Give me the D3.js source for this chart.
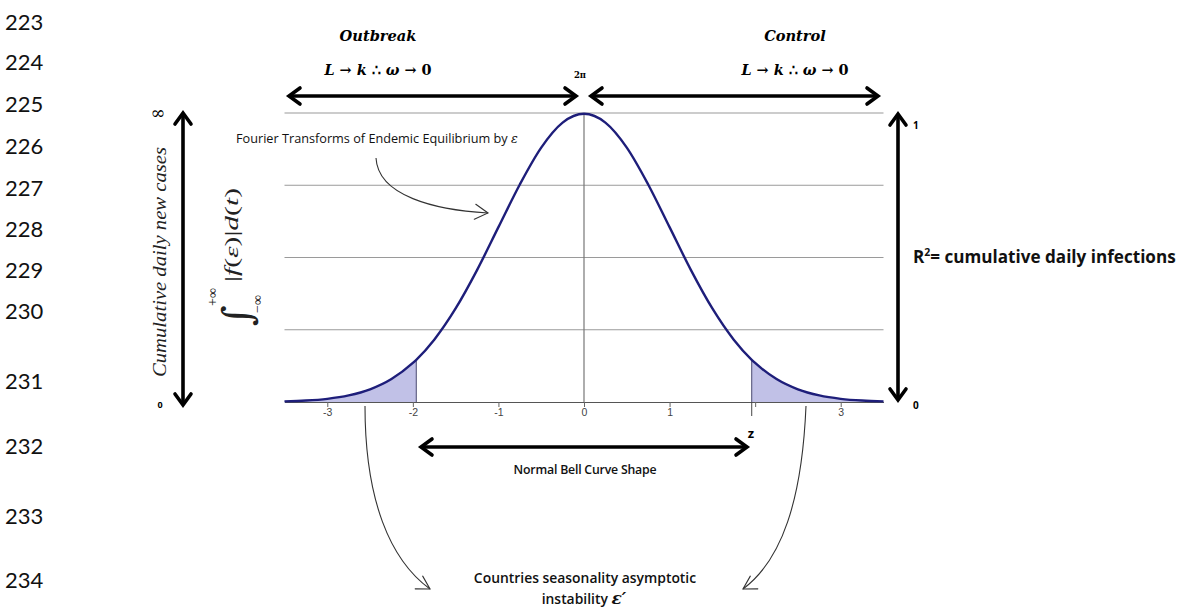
<!DOCTYPE html>
<html>
<head>
<meta charset="utf-8">
<script src="https://cdn.jsdelivr.net/npm/d3@7"></script>
<style>
  html, body { margin: 0; padding: 0; background: #fff; }
  svg { display: block; }
</style>
</head>
<body>
<svg id="chart" width="1179" height="610"></svg>
<script>
// ---------------- DATA ----------------
const lineNumbers = ["223","224","225","226","227","228","229","230","231","232","233","234"];
const zValues   = [-3.5,-3.25,-3,-2.75,-2.5,-2.25,-2,-1.96,-1.75,-1.5,-1.25,-1,-0.75,-0.5,-0.25,0,0.25,0.5,0.75,1,1.25,1.5,1.75,1.96,2,2.25,2.5,2.75,3,3.25,3.5];
const densities = [0.0009,0.0020,0.0044,0.0091,0.0175,0.0317,0.0540,0.0584,0.0863,0.1295,0.1826,0.2420,0.3011,0.3521,0.3867,0.3989,0.3867,0.3521,0.3011,0.2420,0.1826,0.1295,0.0863,0.0584,0.0540,0.0317,0.0175,0.0091,0.0044,0.0020,0.0009];
const xTicks = [-3,-2,-1,0,1,2,3];
const xTickLabels = ["-3","-2","-1","0","1","","3"];
const gridLevels = [0.1,0.2,0.3,0.4];
const zCritical = 1.96;
const leftScaleLabels = ["∞","0"];
const rightScaleLabels = ["1","0"];

// ---------------- LAYOUT ----------------
const svg = d3.select("#chart");
const x = d3.scaleLinear().domain([-3.5, 3.5]).range([284.5, 883.5]);
const y = d3.scaleLinear().domain([0, 0.4]).range([402, 113]);
const pts = zValues.map((z, i) => ({z, d: densities[i]}));

const lineNumY = [22, 62, 104, 146, 188, 229, 270, 311, 381, 446, 516, 580];
svg.append("g").selectAll("text").data(lineNumbers).join("text")
  .attr("x", 5).attr("y", (d, i) => lineNumY[i] + 8)
  .attr("font-family", "Lato, 'Open Sans', sans-serif")
  .attr("font-size", 22).attr("fill", "#111").text(d => d);

// gridlines
svg.append("g").selectAll("line").data(gridLevels).join("line")
  .attr("x1", x(-3.5)).attr("x2", x(3.5))
  .attr("y1", d => y(d)).attr("y2", d => y(d))
  .attr("stroke", "#9a9a9a").attr("stroke-width", 1.2);

// shaded tails
const area = d3.area().x(p => x(p.z)).y0(y(0)).y1(p => y(p.d)).curve(d3.curveMonotoneX);
svg.append("path").datum(pts.filter(p => p.z <= -zCritical))
  .attr("d", area).attr("fill", "#c1c1e7");
svg.append("path").datum(pts.filter(p => p.z >= zCritical))
  .attr("d", area).attr("fill", "#c1c1e7");
[-zCritical, zCritical].forEach(z => {
  const p = pts.find(q => q.z === z);
  svg.append("line").attr("x1", x(z)).attr("x2", x(z)).attr("y1", y(p.d)).attr("y2", y(0))
    .attr("stroke", "#4a4a70").attr("stroke-width", 1);
});
svg.append("line").attr("x1", x(0)).attr("x2", x(0)).attr("y1", y(0.4)).attr("y2", y(0))
  .attr("stroke", "#777").attr("stroke-width", 1.2);

// x axis
const xAxis = d3.axisBottom(x).tickValues(xTicks).tickSize(5).tickSizeOuter(0)
  .tickFormat((d, i) => xTickLabels[i]);
const ax = svg.append("g").attr("transform", `translate(0,${y(0)})`).call(xAxis);
ax.select(".domain").attr("stroke", "#555").attr("stroke-width", 1.2);
ax.selectAll(".tick line").attr("stroke", "#666");
ax.selectAll(".tick text").attr("font-family", "'Liberation Sans', Arial, sans-serif")
  .attr("font-size", 10.5).attr("fill", "#444").attr("dy", "0.6em");
svg.append("line").attr("x1", x(zCritical)).attr("x2", x(zCritical)).attr("y1", y(0)).attr("y2", y(0) + 14)
  .attr("stroke", "#444").attr("stroke-width", 1);

// curve
const line = d3.line().x(p => x(p.z)).y(p => y(p.d)).curve(d3.curveMonotoneX);
svg.append("path").datum(pts).attr("d", line)
  .attr("fill", "none").attr("stroke", "#1e1e7a").attr("stroke-width", 2.4);

// ---------------- ARROWS ----------------
function chevron(g, tx, ty, ux, uy, h, w, sw, color) {
  const nx = -uy, ny = ux;
  g.append("polyline")
    .attr("points", `${tx - h*ux + w*nx},${ty - h*uy + w*ny} ${tx},${ty} ${tx - h*ux - w*nx},${ty - h*uy - w*ny}`)
    .attr("fill", "none").attr("stroke", color).attr("stroke-width", sw)
    .attr("stroke-linecap", "round").attr("stroke-linejoin", "miter");
}
function dblArrow(x1, y1, x2, y2, opt = {}) {
  const sw = opt.sw || 3.6, h = opt.h || 11, w = opt.w || 8, color = "#000";
  const g = svg.append("g");
  const L = Math.hypot(x2 - x1, y2 - y1), ux = (x2 - x1) / L, uy = (y2 - y1) / L;
  g.append("line").attr("x1", x1 + ux*1.5).attr("y1", y1 + uy*1.5).attr("x2", x2 - ux*1.5).attr("y2", y2 - uy*1.5)
    .attr("stroke", color).attr("stroke-width", sw);
  chevron(g, x2, y2, ux, uy, h, w, sw, color);
  chevron(g, x1, y1, -ux, -uy, h, w, sw, color);
}
dblArrow(289, 96, 576, 96);
dblArrow(591, 96, 878, 96);
dblArrow(183, 113, 183, 405);
dblArrow(898, 114, 898, 400);
dblArrow(421, 447, 747, 447);

function curvedArrow(d, tip, u) {
  const g = svg.append("g");
  g.append("path").attr("d", d).attr("fill", "none").attr("stroke", "#333").attr("stroke-width", 1.1);
  chevron(g, tip[0], tip[1], u[0], u[1], 13, 7.5, 1.1, "#333");
}
curvedArrow("M376,158 C378,196 435,210 488,213", [488, 213], [0.995, 0.1]);
curvedArrow("M365,406 C365,500 390,560 430,589", [430, 589], [0.85, 0.5]);
curvedArrow("M806,406 C802,500 782,560 743,589", [743, 589], [-0.85, 0.5]);

// ---------------- TEXT ----------------
const serif = "'DejaVu Serif', 'Liberation Serif', serif";
const sans = "'Open Sans', Lato, sans-serif";

function mathLabel(cx, cy) {
  const t = svg.append("text").attr("x", cx).attr("y", cy).attr("text-anchor", "middle")
    .attr("font-family", serif).attr("font-weight", "bold").attr("font-size", 14.4);
  t.append("tspan").attr("font-style", "italic").text("L");
  t.append("tspan").text(" → ");
  t.append("tspan").attr("font-style", "italic").text("k");
  t.append("tspan").text(" ∴ ");
  t.append("tspan").attr("font-style", "italic").text("ω");
  t.append("tspan").text(" → 0");
}
[["Outbreak", 378], ["Control", 795]].forEach(([s, cx]) => {
  svg.append("text").attr("x", cx).attr("y", 41).attr("text-anchor", "middle")
    .attr("font-family", serif).attr("font-weight", "bold").attr("font-style", "italic")
    .attr("font-size", 14.6).text(s);
  mathLabel(cx, 75);
});
svg.append("text").attr("x", 580).attr("y", 78).attr("text-anchor", "middle")
  .attr("font-family", serif).attr("font-weight", "bold").attr("font-size", 8.5).text("2π");

// Fourier label
const ft = svg.append("text").attr("x", 236).attr("y", 143)
  .attr("font-family", sans).attr("font-size", 12.7).attr("fill", "#111");
ft.append("tspan").text("Fourier Transforms of Endemic Equilibrium by ");
ft.append("tspan").attr("font-family", serif).attr("font-style", "italic").text("ε");

// left axis texts
svg.append("text").attr("transform", "translate(166,262) rotate(-90)").attr("text-anchor", "middle")
  .attr("font-family", "'Liberation Serif', serif").attr("font-style", "italic").attr("font-size", 18)
  .attr("textLength", 230).attr("lengthAdjust", "spacingAndGlyphs")
  .attr("fill", "#222").text("Cumulative daily new cases");
svg.append("text").attr("x", 158).attr("y", 119).attr("text-anchor", "middle")
  .attr("font-family", serif).attr("font-size", 18).text(leftScaleLabels[0]);
svg.append("text").attr("x", 160).attr("y", 408).attr("text-anchor", "middle")
  .attr("font-family", sans).attr("font-weight", "bold").attr("font-size", 9).text(leftScaleLabels[1]);

// integral expression (rotated)
const ig = svg.append("g").attr("transform", "translate(245,255) rotate(-90)");
ig.append("text").attr("x", -27).attr("y", -7).attr("font-family", "'Liberation Serif', serif")
  .attr("font-size", 18).attr("fill", "#222")
  .attr("textLength", 94).attr("lengthAdjust", "spacingAndGlyphs")
  .html('|<tspan font-style="italic">f</tspan>(<tspan font-style="italic">ε</tspan>)|<tspan font-style="italic">d</tspan>(<tspan font-style="italic">t</tspan>)');
ig.append("text").attr("x", -71).attr("y", 6).attr("font-family", "'DejaVu Serif', serif")
  .attr("font-size", 40).attr("fill", "#222").text("∫");
ig.append("text").attr("x", -51).attr("y", -28).attr("font-family", "'Liberation Serif', serif")
  .attr("font-size", 14).attr("fill", "#222").text("+∞");
ig.append("text").attr("x", -58).attr("y", 17).attr("font-family", "'Liberation Serif', serif")
  .attr("font-size", 14).attr("fill", "#222").text("−∞");

// right axis texts
svg.append("text").attr("x", 913).attr("y", 129).attr("font-family", sans).attr("font-weight", "bold")
  .attr("font-size", 10).text(rightScaleLabels[0]);
svg.append("text").attr("x", 913).attr("y", 409).attr("font-family", sans).attr("font-weight", "bold")
  .attr("font-size", 10).text(rightScaleLabels[1]);
const r2 = svg.append("text").attr("x", 913).attr("y", 263).attr("font-family", sans)
  .attr("font-weight", "bold").attr("font-size", 17.1).attr("fill", "#111");
r2.append("tspan").text("R");
r2.append("tspan").attr("font-size", 10.5).attr("dy", -7).text("2");
r2.append("tspan").attr("dy", 7).text("= cumulative daily infections");

// bottom labels
svg.append("text").attr("x", 751).attr("y", 438).attr("text-anchor", "middle")
  .attr("font-family", sans).attr("font-weight", "bold").attr("font-size", 13).text("z");
svg.append("text").attr("x", 585).attr("y", 474).attr("text-anchor", "middle")
  .attr("font-family", sans).attr("font-weight", 600).attr("font-size", 12.3).attr("fill", "#111")
  .attr("letter-spacing", -0.2).text("Normal Bell Curve Shape");
svg.append("text").attr("x", 585).attr("y", 583).attr("text-anchor", "middle")
  .attr("font-family", sans).attr("font-weight", 600).attr("font-size", 13.9).attr("fill", "#111")
  .text("Countries seasonality asymptotic");
const inst = svg.append("text").attr("x", 584).attr("y", 604).attr("text-anchor", "middle")
  .attr("font-family", sans).attr("font-weight", 600).attr("font-size", 13.9).attr("fill", "#111");
inst.append("tspan").text("instability ");
inst.append("tspan").attr("font-family", serif).attr("font-style", "italic").attr("font-size", 17).text("ε′");
</script>
</body>
</html>
